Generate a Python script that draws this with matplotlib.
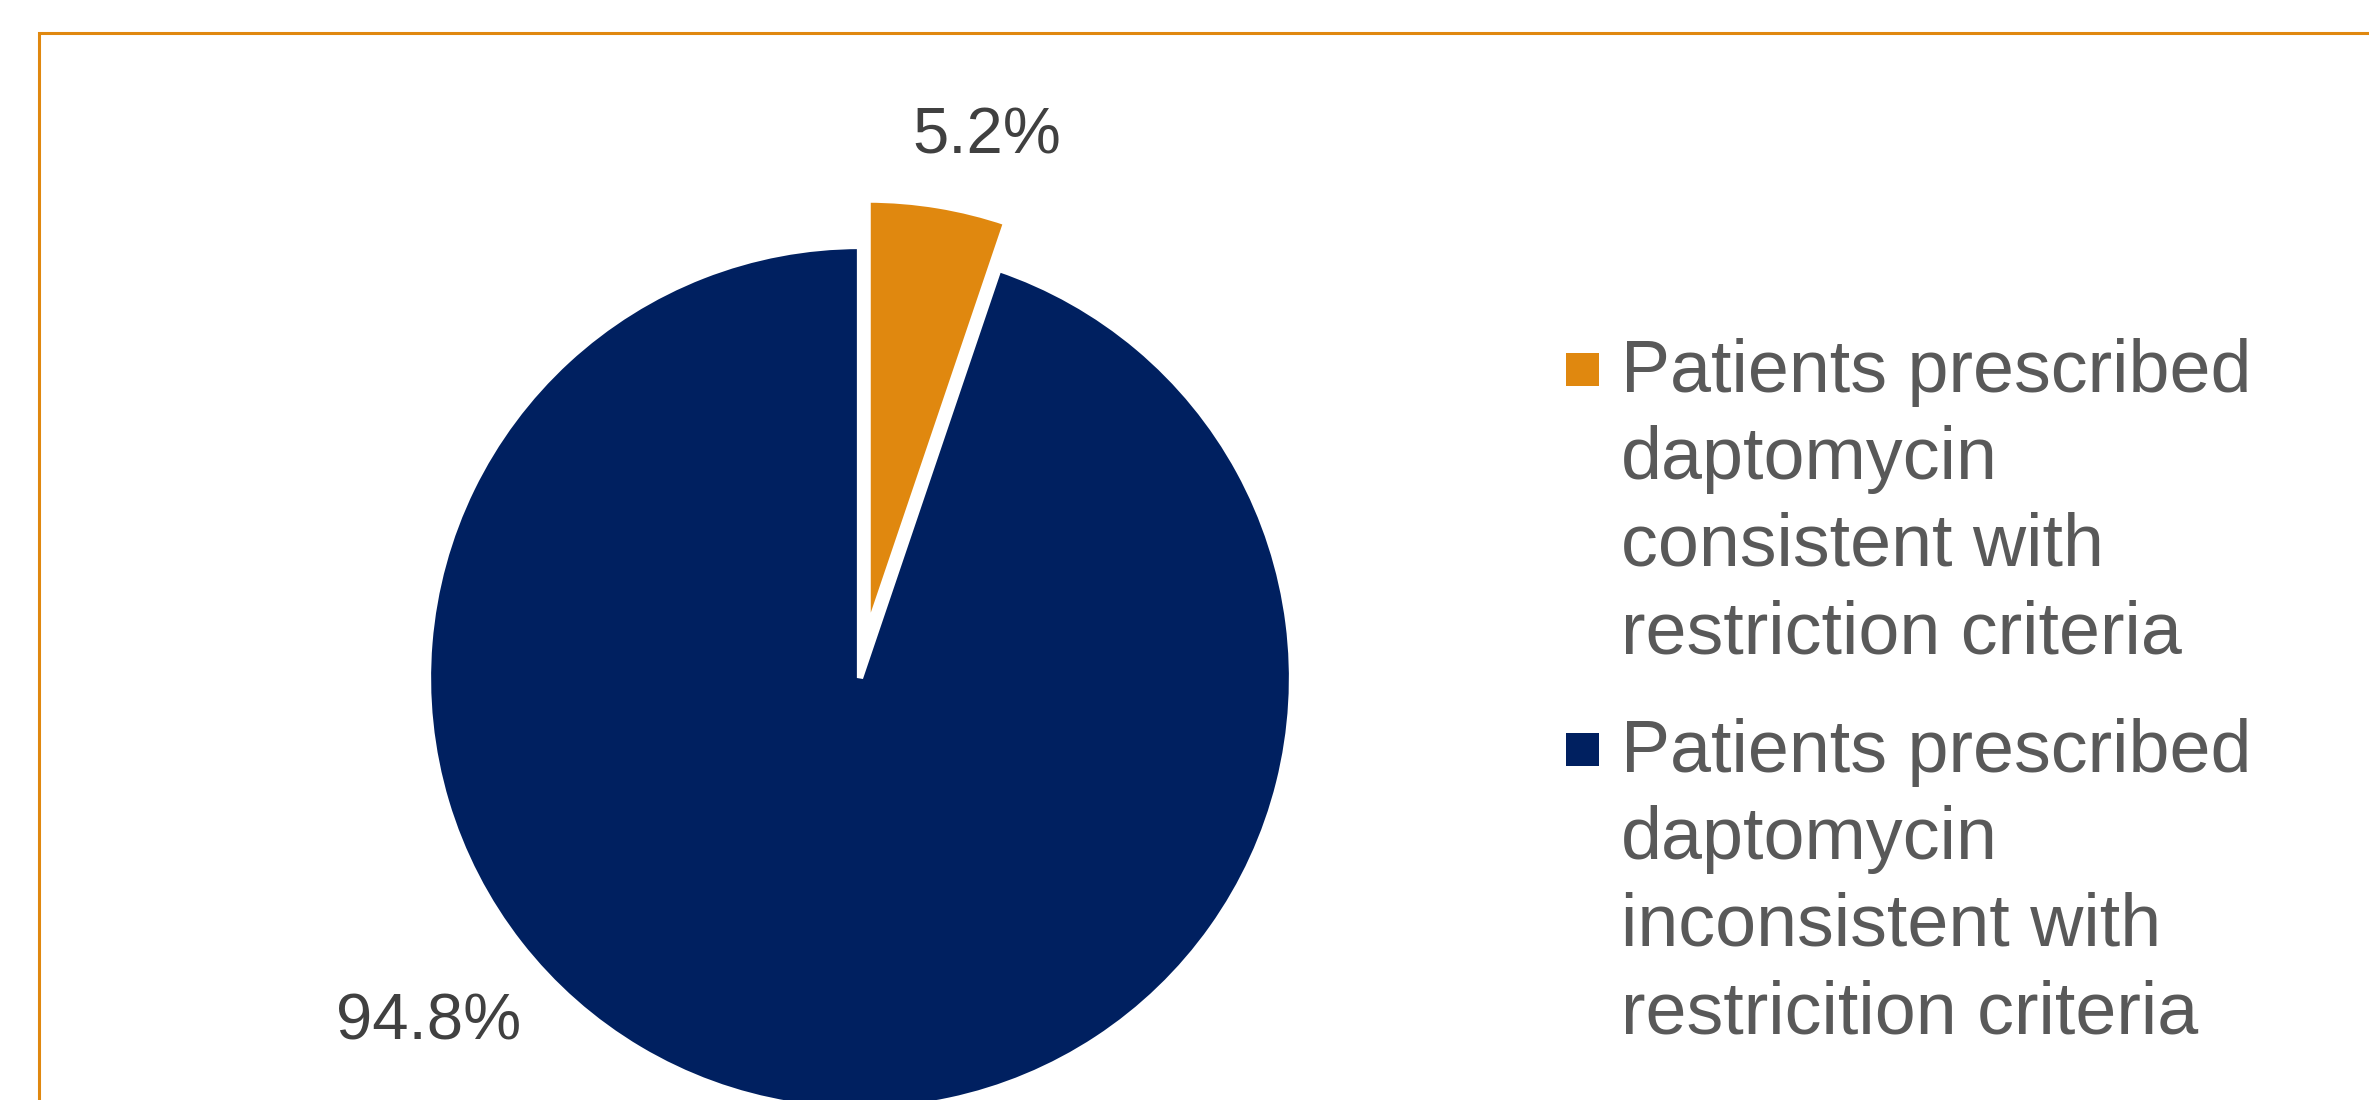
import matplotlib.pyplot as plt
from matplotlib.patches import Rectangle

plt.rcParams['font.family'] = ['Liberation Sans', 'DejaVu Sans']

# data
categories = ['Patients prescribed\ndaptomycin\nconsistent with\nrestriction criteria',
              'Patients prescribed\ndaptomycin\ninconsistent with\nrestricition criteria']
shares = [5.2, 94.8]
colors = ['#E0880F', '#002060']

W, H = 2369, 1100
fig = plt.figure(figsize=(W / 100, H / 100), dpi=100)
ax = fig.add_axes([0, 0, 1, 1])

# orange frame running off the right and bottom edges
ax.add_patch(Rectangle((39, -60), W, H - 33 + 60, fill=False,
                       edgecolor='#E0880F', linewidth=2.2, zorder=0))

wedges, _ = ax.pie(shares, colors=colors, startangle=90, counterclock=False,
                   center=(860, 422), radius=432, explode=[47, 0],
                   wedgeprops=dict(edgecolor='white', linewidth=4.5,
                                   joinstyle='bevel'),
                   frame=True)
# axes in pixel units, y pointing up
ax.set_xlim(0, W)
ax.set_ylim(0, H)
ax.set_aspect('equal')
ax.axis('off')

# data labels (placed where the reference puts them)
label_pos = [(987, 964), (429, 78)]
for s, (lx, ly) in zip(shares, label_pos):
    ax.text(lx, ly, f'{s:.1f}%', fontsize=47, color='#404040',
            ha='center', va='center')

# legend drawn by hand so the square sits on the first line
first_baseline = [H - 392, H - 772]
line_step = 87
for lab, col, yb in zip(categories, colors, first_baseline):
    ax.add_patch(Rectangle((1566, yb + 6), 33, 33, facecolor=col,
                           edgecolor='none'))
    for i, line in enumerate(lab.split('\n')):
        ax.text(1621, yb - i * line_step, line, fontsize=53, color='#595959',
                ha='left', va='baseline')

fig.savefig('out.png', dpi=100)
